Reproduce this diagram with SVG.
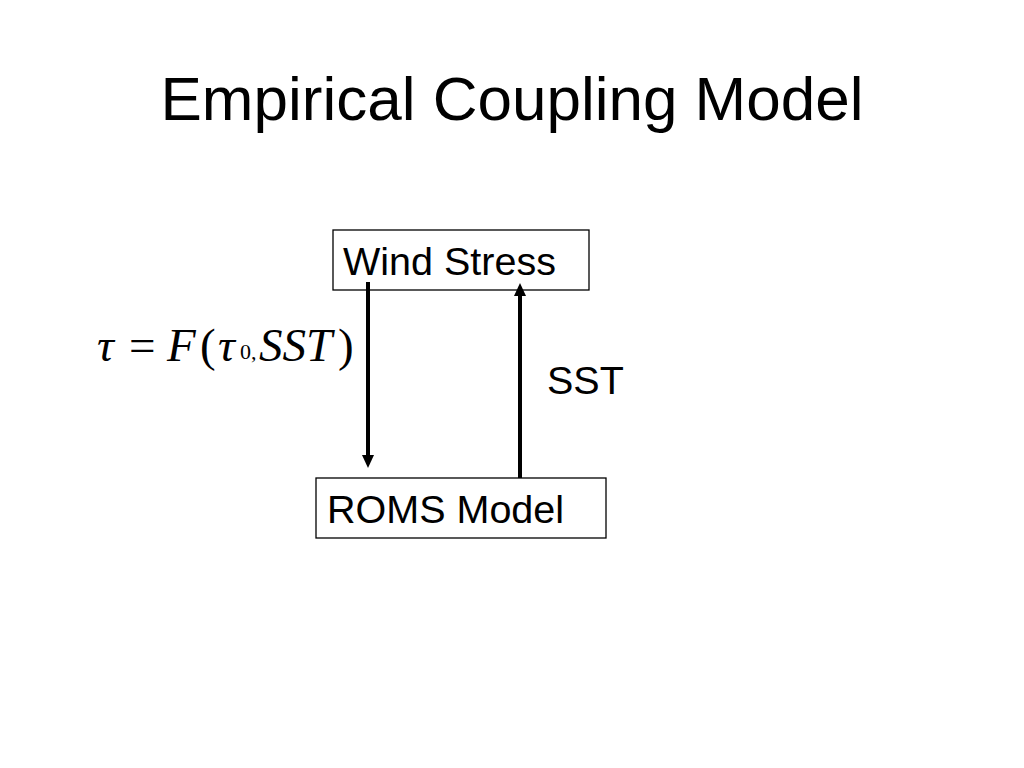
<svg xmlns="http://www.w3.org/2000/svg" width="1024" height="768" viewBox="0 0 1024 768">
<style>
.box{fill:#fff;stroke:#000;stroke-width:1.3}
.lbl{font-family:"Liberation Sans",Arial,sans-serif;font-size:39.5px;fill:#000}
.math{font-family:"Liberation Serif","Times New Roman",serif;fill:#000;font-size:47px}
.it{font-style:italic}
.conn{stroke:#000;stroke-width:4;fill:none}
</style>
<defs>
<marker id="ah" viewBox="0 0 13 12" refX="7" refY="6" markerWidth="13" markerHeight="12" orient="auto" markerUnits="userSpaceOnUse">
<path d="M0,0 L13,6 L0,12 z" fill="#000"/>
</marker>
</defs>
<rect width="1024" height="768" fill="#fff"/>
<text x="512" y="120" text-anchor="middle" font-family="'Liberation Sans',Arial,sans-serif" font-size="62" fill="#000">Empirical Coupling Model</text>
<g id="wind-stress">
<rect class="box" x="333" y="230" width="256" height="60"/>
<text class="lbl" x="343" y="275">Wind Stress</text>
</g>
<g id="roms-model">
<rect class="box" x="316" y="478" width="290" height="60"/>
<text class="lbl" x="327" y="523">ROMS Model</text>
</g>
<g id="connectors">
<line class="conn" x1="368" y1="282" x2="368" y2="462" marker-end="url(#ah)"/>
<line class="conn" x1="520" y1="478" x2="520" y2="289" marker-end="url(#ah)"/>
</g>
<g id="labels">
<text class="lbl" x="547" y="394">SST</text>
<g class="math">
<text x="97" y="361" class="it">τ</text>
<text x="129" y="361">=</text>
<text x="167" y="361" class="it">F</text>
<text x="200" y="361">(</text>
<text x="218" y="361" class="it">τ</text>
<text x="240" y="359" font-size="22">0,</text>
<text x="259" y="361" class="it">SST</text>
<text x="338" y="361">)</text>
</g>
</g>
</svg>
